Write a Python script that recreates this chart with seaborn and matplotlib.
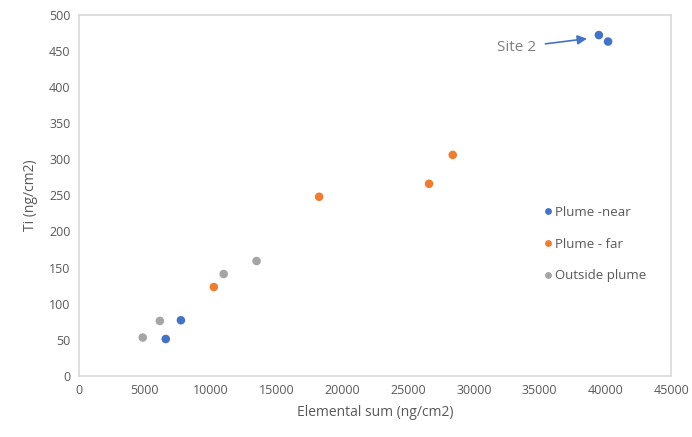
import matplotlib
matplotlib.use("Agg")
import matplotlib.pyplot as plt
import seaborn as sns
import pandas as pd

near_x = [39500, 40200, 6600, 7750]
near_y = [472, 463, 51, 77]
far_x = [10250, 18250, 26600, 28400]
far_y = [123, 248, 266, 306]
out_x = [4850, 6150, 11000, 13500]
out_y = [53, 76, 141, 159]
groups = ["Plume -near", "Plume - far", "Outside plume"]
colors = ["#4472C4", "#ED7D31", "#A5A5A5"]

df = pd.DataFrame({
    "x": near_x + far_x + out_x,
    "y": near_y + far_y + out_y,
    "group": [groups[0]] * len(near_x) + [groups[1]] * len(far_x) + [groups[2]] * len(out_x),
})

sns.set_style("white")
plt.rcParams["font.family"] = ["Open Sans", "DejaVu Sans"]

fig = plt.figure(figsize=(6.92, 4.37), dpi=100)
ax = fig.add_axes([0.114, 0.14, 0.856, 0.826])
sns.scatterplot(data=df, x="x", y="y", hue="group", hue_order=groups,
                palette=colors, s=38, edgecolor="none", ax=ax)

ax.set_xlim(0, 45000)
ax.set_ylim(0, 500)
ax.set_xticks(range(0, 45001, 5000))
ax.set_yticks(range(0, 501, 50))
tc = "#595959"
ax.tick_params(axis="both", labelsize=9, colors=tc, length=0, pad=6)
for sp in ax.spines.values():
    sp.set_color("#D9D9D9")
    sp.set_linewidth(1.2)
ax.set_xlabel("Elemental sum (ng/cm2)", fontsize=10, color=tc, labelpad=6)
ax.set_ylabel("Ti (ng/cm2)", fontsize=10, color=tc, labelpad=8)

leg = ax.legend(loc="center left", bbox_to_anchor=(0.76, 0.365), frameon=False,
                fontsize=9.5, handletextpad=0.1, labelspacing=1.42, markerscale=0.8,
                handlelength=1.0)
for t in leg.get_texts():
    t.set_color(tc)

ax.annotate("Site 2", xy=(38600, 467), xytext=(31800, 455),
            fontsize=11, color="#7F7F7F", va="center",
            arrowprops=dict(arrowstyle="-|>", color="#4472C4", lw=1.2,
                            mutation_scale=14, shrinkA=4, shrinkB=0))

fig.savefig("out.png", dpi=100)
